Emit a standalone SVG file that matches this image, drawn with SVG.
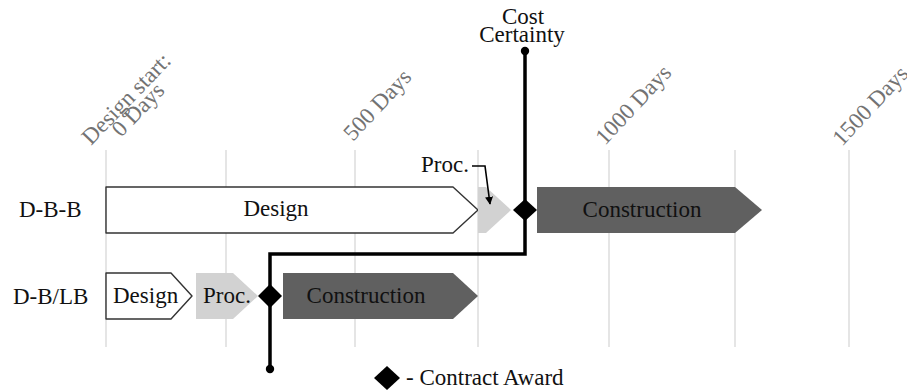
<svg xmlns="http://www.w3.org/2000/svg" width="907" height="391" viewBox="0 0 907 391">
<defs>
<style>
text{font-family:"Liberation Serif","Times New Roman",serif;font-size:23px;fill:#111}
.axis{fill:#737373}
.grid{stroke:#dcdcdc;stroke-width:1.5}
.design{fill:#fff;stroke:#333;stroke-width:1.4;stroke-linejoin:round}
.proc{fill:#d2d2d2}
.cons{fill:#606060}
.conn{fill:none;stroke:#000;stroke-width:3.5}
.mid{text-anchor:middle}
</style>
<marker id="ah" viewBox="0 0 10 10" refX="9" refY="5" markerWidth="5" markerHeight="5" orient="auto" markerUnits="strokeWidth">
<path d="M0,0 L10,5 L0,10 z" fill="#000"/>
</marker>
</defs>
<rect width="907" height="391" fill="#fff"/>
<g id="grid">
<line class="grid" x1="106" y1="150" x2="106" y2="347"/>
<line class="grid" x1="226" y1="150" x2="226" y2="347"/>
<line class="grid" x1="355" y1="150" x2="355" y2="347"/>
<line class="grid" x1="478" y1="150" x2="478" y2="347"/>
<line class="grid" x1="609" y1="150" x2="609" y2="347"/>
<line class="grid" x1="735" y1="150" x2="735" y2="347"/>
<line class="grid" x1="849" y1="150" x2="849" y2="347"/>
</g>
<g id="axis-labels">
<text class="axis" transform="translate(91,146) rotate(-46)">Design start:</text>
<text class="axis" transform="translate(121,138) rotate(-46)">0 Days</text>
<text class="axis" transform="translate(353,142) rotate(-47)">500 Days</text>
<text class="axis" transform="translate(605,146) rotate(-47)">1000 Days</text>
<text class="axis" transform="translate(842,147) rotate(-47)">1500 Days</text>
</g>
<g id="row-labels">
<text x="19" y="217">D-B-B</text>
<text x="13" y="304">D-B/LB</text>
</g>
<g id="dbb-design">
<path class="design" d="M106,187 L453,187 L478,210 L453,233 L106,233 Z"/>
<text class="mid" x="276" y="216">Design</text>
</g>
<g id="dbb-proc">
<path class="proc" d="M478,187 L486,187 L511,210 L486,233 L478,233 Z"/>
</g>
<g id="dbb-construction">
<path class="cons" d="M537,187 L735,187 L762,210 L735,233 L537,233 Z"/>
<text class="mid" x="642" y="217">Construction</text>
</g>
<g id="dblb-design">
<path class="design" d="M106,273 L171,273 L192,296 L171,319 L106,319 Z"/>
<text x="113" y="303">Design</text>
</g>
<g id="dblb-proc">
<path class="proc" d="M196,273 L233,273 L258,296 L233,319 L196,319 Z"/>
<text x="203" y="303">Proc.</text>
</g>
<g id="dblb-construction">
<path class="cons" d="M283,273 L453,273 L478,296 L453,319 L283,319 Z"/>
<text class="mid" x="366" y="303">Construction</text>
</g>
<g id="connectors">
<polyline class="conn" points="525,51 525,254 270,254 270,369"/>
<circle cx="525" cy="51" r="4.2" fill="#000"/>
<circle cx="270" cy="369" r="4.2" fill="#000"/>
<polyline points="472,166 485,166 490,204" fill="none" stroke="#000" stroke-width="1.6" marker-end="url(#ah)"/>
</g>
<g id="cost-certainty">
<text class="mid" x="523" y="24">Cost</text>
<text class="mid" x="522" y="42">Certainty</text>
</g>
<g id="proc-label">
<text x="421" y="172">Proc.</text>
</g>
<g id="award-dbb">
<path d="M525,199 L537,210 L525,221 L513,210 Z" fill="#000"/>
</g>
<g id="award-dblb">
<path d="M270,284 L282,296 L270,308 L258,296 Z" fill="#000"/>
</g>
<g id="legend">
<path d="M387,366 L400,378 L387,390 L374,378 Z" fill="#000"/>
<text x="406" y="385">- Contract Award</text>
</g>
</svg>
